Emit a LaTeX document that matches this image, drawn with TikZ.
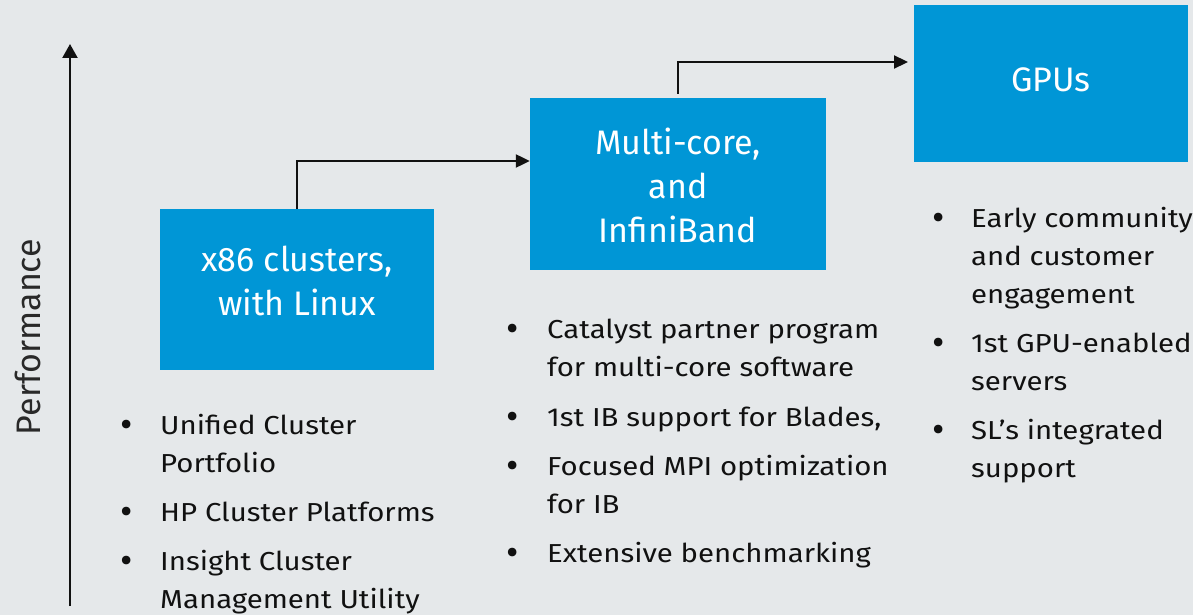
\documentclass[tikz,border=0pt]{standalone}
\usepackage{fontspec}
\setmainfont{Fira Sans}
\newfontfamily\bulletfont[FakeStretch=1.13]{Fira Sans}
\usetikzlibrary{arrows.meta,calc}
\definecolor{bg}{HTML}{E5E8EA}
\definecolor{hpblue}{HTML}{0096D6}
\definecolor{ink}{HTML}{111111}
\begin{document}
\begin{tikzpicture}[x=1pt,y=-1pt,
  stagebox/.style={fill=hpblue,draw=none,inner sep=0pt},
  stagetext/.style={text=white,align=center,inner sep=0pt,
    font=\fontsize{34}{44}\selectfont},
  conn/.style={draw=ink,line width=2.2pt,-{Triangle[length=14pt,width=13pt]}},
  itemtext/.style={anchor=base west,align=left,inner sep=0pt,text=ink,
    font=\bulletfont\fontsize{26}{38}\selectfont},
  bul/.style={anchor=base,inner sep=0pt,text=ink,font=\fontsize{38}{38}\selectfont}]
\fill[bg] (0,0) rectangle (1193,615);
\useasboundingbox (0,0) rectangle (1193,615);

% axis
\coordinate (ax0) at (70,606);
\coordinate (ax1) at (70,44);
\draw[draw=ink,line width=2.2pt,-{Triangle[length=14pt,width=15pt]}] (ax0) -- (ax1);
\node[rotate=90,text=ink!90,font=\fontsize{34}{40}\selectfont,inner sep=0pt] (perf) at (28,337) {Performance};

% boxes
\node[stagebox,minimum width=274pt,minimum height=161pt] (b1) at (297,289.5) {};
\node[stagetext] (b1t) at (297,281) {x86 clusters,\\with Linux};
\node[stagebox,minimum width=296pt,minimum height=172pt] (b2) at (678,184) {};
\node[stagetext] (b2t) at (678,185) {Multi-core,\\and\\InfiniBand};
\node[stagebox,minimum width=274pt,minimum height=157pt] (b3) at (1051,83.5) {};
\node[stagetext] (b3t) at (1051,80) {GPUs};

% connectors
\coordinate (a1end) at (b2.west |- 0,161);
\draw[conn] (b1.north) |- (a1end);
\coordinate (a2start) at (678,94);
\coordinate (a2end) at (908,62);
\draw[conn] (a2start) |- (a2end);

% column 1
\node[bul] (c1b1) at (127,437) {•};
\node[itemtext] (c1t1) at (160,472) {Unified Cluster\\Portfolio};
\node[bul] (c1b2) at (127,524) {•};
\node[itemtext] (c1t2) at (160,521) {HP Cluster Platforms};
\node[bul] (c1b3) at (127,573) {•};
\node[itemtext] (c1t3) at (160,608) {Insight Cluster\\Management Utility};

% column 2
\node[bul] (c2b1) at (513,341) {•};
\node[itemtext] (c2t1) at (547,376) {Catalyst partner program\\for multi-core software};
\node[bul] (c2b2) at (513,429) {•};
\node[itemtext] (c2t2) at (547,426) {1st IB support for Blades,};
\node[bul] (c2b3) at (513,478) {•};
\node[itemtext] (c2t3) at (547,513) {Focused MPI optimization\\for IB};
\node[bul] (c2b4) at (513,565) {•};
\node[itemtext] (c2t4) at (547,562) {Extensive benchmarking};

% column 3
\node[bul] (c3b1) at (939,230) {•};
\node[itemtext] (c3t1) at (971,303) {Early community\\and customer\\engagement};
\node[bul] (c3b2) at (939,355) {•};
\node[itemtext] (c3t2) at (971,390) {1st GPU-enabled\\servers};
\node[bul] (c3b3) at (939,442) {•};
\node[itemtext] (c3t3) at (971,477) {SL’s integrated\\support};
\end{tikzpicture}
\end{document}
